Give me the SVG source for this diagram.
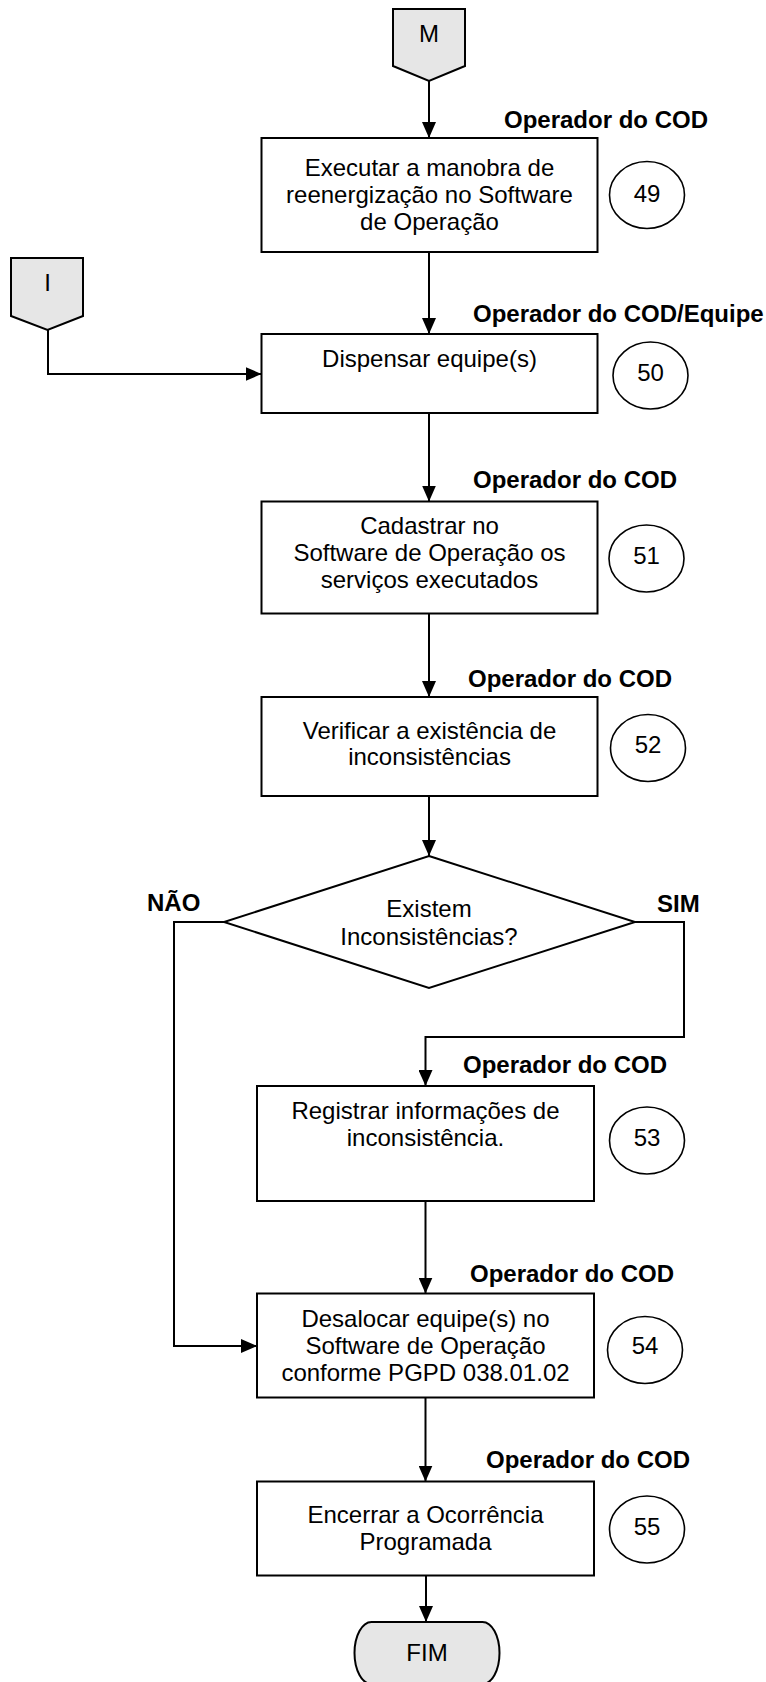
<svg xmlns="http://www.w3.org/2000/svg" width="766" height="1682" viewBox="0 0 766 1682">
<defs>
<marker id="arr" markerUnits="userSpaceOnUse" markerWidth="16" markerHeight="14" refX="16" refY="7" orient="auto">
<path d="M0,0 L16,7 L0,14 z" fill="#000"/>
</marker>
<style>
.box{fill:#fff;stroke:#000;stroke-width:2}
.conn{fill:#e6e6e6;stroke:#000;stroke-width:2}
.num{fill:#fff;stroke:#000;stroke-width:1.6}
.t{font-family:"Liberation Sans",Arial,sans-serif;font-size:24px;fill:#000;text-anchor:middle}
.b{font-family:"Liberation Sans",Arial,sans-serif;font-size:24px;font-weight:bold;fill:#000}
.ln{fill:none;stroke:#000;stroke-width:2;marker-end:url(#arr)}
</style>
</defs>
<rect width="766" height="1682" fill="#fff"/>

<g id="connectors">
<path class="ln" d="M429,81 L429,138"/>
<path class="ln" d="M429,252 L429,334"/>
<path class="ln" d="M48,330 L48,374 L261.5,374"/>
<path class="ln" d="M429,413 L429,501.5"/>
<path class="ln" d="M429,613.5 L429,697"/>
<path class="ln" d="M429,796 L429,856"/>
<path class="ln" d="M635,922 L684,922 L684,1037 L425.5,1037 L425.5,1086"/>
<path class="ln" d="M224,922 L174,922 L174,1346 L257,1346"/>
<path class="ln" d="M425.5,1201 L425.5,1293.5"/>
<path class="ln" d="M425.5,1397.5 L425.5,1481.5"/>
<path class="ln" d="M426,1575.5 L426,1622"/>
</g>

<g id="M">
<path class="conn" d="M393,9 L465,9 L465,66 L429,81 L393,66 Z"/>
<text class="t" x="429" y="42">M</text>
</g>

<g id="I">
<path class="conn" d="M11,258 L83,258 L83,316 L47.5,330 L11,316 Z"/>
<text class="t" x="47.5" y="291">I</text>
</g>

<g id="n49">
<text class="b" x="504" y="128">Operador do COD</text>
<rect class="box" x="261.5" y="138" width="336" height="114"/>
<text class="t" x="429.5" y="176">Executar a manobra de</text>
<text class="t" x="429.5" y="203">reenergização no Software</text>
<text class="t" x="429.5" y="230">de Operação</text>
<ellipse class="num" cx="647" cy="195" rx="37.5" ry="33.5"/>
<text class="t" x="647" y="202">49</text>
</g>

<g id="n50">
<text class="b" x="473" y="322">Operador do COD/Equipe</text>
<rect class="box" x="261.5" y="334" width="336" height="79"/>
<text class="t" x="429.5" y="367">Dispensar equipe(s)</text>
<ellipse class="num" cx="650.5" cy="375.5" rx="37.5" ry="33.5"/>
<text class="t" x="650.5" y="381">50</text>
</g>

<g id="n51">
<text class="b" x="473" y="488">Operador do COD</text>
<rect class="box" x="261.5" y="501.5" width="336" height="112"/>
<text class="t" x="429.5" y="534">Cadastrar no</text>
<text class="t" x="429.5" y="561">Software de Operação os</text>
<text class="t" x="429.5" y="588">serviços executados</text>
<ellipse class="num" cx="646.5" cy="558.5" rx="37.5" ry="33.5"/>
<text class="t" x="646.5" y="564">51</text>
</g>

<g id="n52">
<text class="b" x="468" y="687">Operador do COD</text>
<rect class="box" x="261.5" y="697" width="336" height="99"/>
<text class="t" x="429.5" y="739">Verificar a existência de</text>
<text class="t" x="429.5" y="765">inconsistências</text>
<ellipse class="num" cx="648" cy="748" rx="37.5" ry="33.5"/>
<text class="t" x="648" y="753">52</text>
</g>

<g id="decision">
<path class="box" d="M429,856 L635,922 L429,988 L224,922 Z"/>
<text class="t" x="429" y="917">Existem</text>
<text class="t" x="429" y="945">Inconsistências?</text>
<text class="b" x="147" y="911">NÃO</text>
<text class="b" x="657" y="912">SIM</text>
</g>

<g id="n53">
<text class="b" x="463" y="1073">Operador do COD</text>
<rect class="box" x="257" y="1086" width="337" height="115"/>
<text class="t" x="425.5" y="1119">Registrar informações de</text>
<text class="t" x="425.5" y="1146">inconsistência.</text>
<ellipse class="num" cx="647" cy="1140.5" rx="37.5" ry="33.5"/>
<text class="t" x="647" y="1146">53</text>
</g>

<g id="n54">
<text class="b" x="470" y="1282">Operador do COD</text>
<rect class="box" x="257" y="1293.5" width="337" height="104"/>
<text class="t" x="425.5" y="1327">Desalocar equipe(s) no</text>
<text class="t" x="425.5" y="1354">Software de Operação</text>
<text class="t" x="425.5" y="1381">conforme PGPD 038.01.02</text>
<ellipse class="num" cx="645" cy="1350" rx="37.5" ry="33.5"/>
<text class="t" x="645" y="1354">54</text>
</g>

<g id="n55">
<text class="b" x="486" y="1468">Operador do COD</text>
<rect class="box" x="257" y="1481.5" width="337" height="94"/>
<text class="t" x="425.5" y="1523">Encerrar a Ocorrência</text>
<text class="t" x="425.5" y="1550">Programada</text>
<ellipse class="num" cx="647" cy="1529.5" rx="37.5" ry="33.5"/>
<text class="t" x="647" y="1535">55</text>
</g>

<g id="FIM">
<rect class="conn" x="354.5" y="1622" width="145" height="62" rx="17" ry="31"/>
<text class="t" x="427" y="1661">FIM</text>
</g>
</svg>
